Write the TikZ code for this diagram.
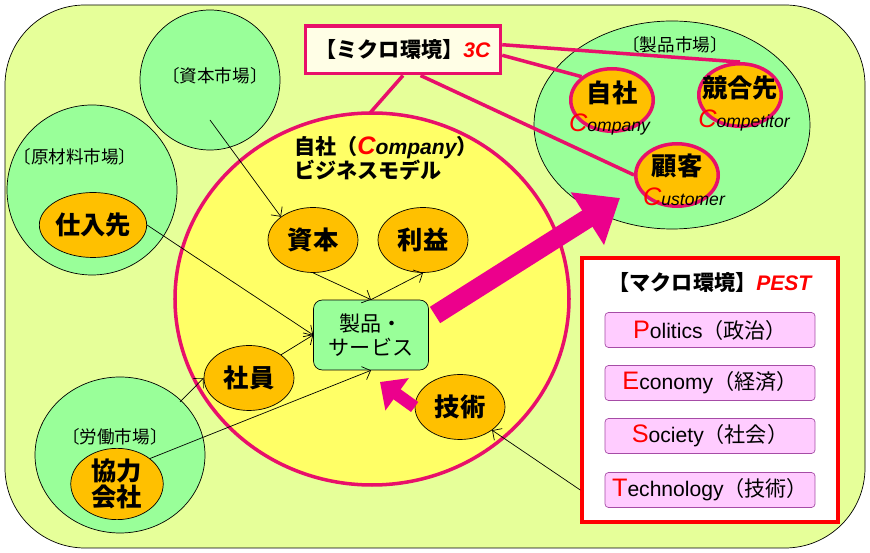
\documentclass[tikz,border=0pt]{standalone}
\usepackage{fontspec}
\setmainfont{Noto Sans CJK JP}
\newfontfamily\latfont{Liberation Sans}
\usetikzlibrary{arrows.meta,shapes.geometric}
\definecolor{bgyel}{HTML}{E6FF99}
\definecolor{mkgreen}{HTML}{99FF99}
\definecolor{bizyel}{HTML}{FFFF66}
\definecolor{orng}{HTML}{FFC000}
\definecolor{rosered}{HTML}{E8106A}
\definecolor{pestpink}{HTML}{FFCCFF}
\newcommand{\bigC}{{\latfont\itshape\color{red}\Large C}}
\newcommand{\rl}[1]{{\latfont\color{red}\Large #1}}
\tikzset{
  orngnode/.style={draw, fill=orng, ellipse, font=\Large\bfseries, inner sep=0pt, minimum width=1.8cm, minimum height=1.3cm},
  pinkorng/.style={draw=rosered, line width=2pt, fill=orng, ellipse, inner sep=0pt, minimum width=1.65cm, minimum height=1.25cm},
  pestitem/.style={draw=violet!70, fill=pestpink, rounded corners=2pt, minimum width=4.2cm, minimum height=0.7cm, font=\large},
  thinarrow/.style={-{Straight Barb[length=4pt]}, thin},
  pinkline/.style={rosered, line width=2pt}
}
\begin{document}
\begin{tikzpicture}[x=0.02cm, y=-0.02cm]
  \useasboundingbox (0,0) rectangle (870,553);
  \draw[fill=bgyel, rounded corners=1.6cm] (5,5) rectangle (865,548);

  % markets
  \draw[fill=mkgreen] (210,80) ellipse (70 and 70);
  \node (capmkt) at (215,76) {〔資本市場〕};
  \draw[fill=mkgreen] (92,190) ellipse (85 and 85);
  \node (rawmkt) at (75,157) {〔原材料市場〕};
  \draw[fill=mkgreen] (120,455) ellipse (85 and 78);
  \node (labmkt) at (115,437) {〔労働市場〕};
  \draw[fill=mkgreen] (672,125) ellipse (138 and 104);
  \node (prodmkt) at (675,45) {〔製品市場〕};

  % business model
  \draw[rosered, line width=2pt, fill=bizyel] (372,299) ellipse (197 and 186);
  \node[align=left, font=\large\bfseries, anchor=north west] (biz) at (288,130)
    {自社（\bigC{\latfont\itshape ompany}）\\ビジネスモデル};

  \node[orngnode] (shihon) at (313,240) {資本};
  \node[orngnode] (rieki) at (423,240) {利益};
  \node[orngnode] (shain) at (249,378) {社員};
  \node[orngnode] (gijutsu) at (460,407) {技術};
  \node[orngnode] (shiire) at (93,225) {仕入先};
  \node[orngnode, minimum width=1.85cm, minimum height=1.35cm, align=center] (kyoryoku) at (117,484) {協力\\[-3pt]会社};

  \node[draw, fill=mkgreen, rounded corners=5pt, minimum width=2.3cm, minimum height=1.4cm, align=center, font=\large] (seihin) at (371,335) {製品・\\サービス};

  % 3C
  \node[pinkorng] (jisha) at (612,100) {};
  \node[font=\Large\bfseries] at (612,93) {自社};
  \node[anchor=west, xshift=-4pt] at (570,124) {\bigC{\latfont\itshape ompany}};
  \node[pinkorng] (kyogo) at (740,95) {};
  \node[font=\Large\bfseries] at (740,88) {競合先};
  \node at (744,120) {\bigC{\latfont\itshape ompetitor}};
  \node[pinkorng] (kokyaku) at (677,175) {};
  \node[font=\Large\bfseries] at (677,166) {顧客};
  \node at (684,197) {\bigC{\latfont\itshape ustomer}};

  \node[draw=rosered, line width=2pt, fill=yellow!10, minimum width=3.9cm, minimum height=0.95cm, font=\large\bfseries] (micro) at (403,50)
    {【ミクロ環境】{\latfont\itshape\color{red}3C}};
  \draw[pinkline] (micro.south) -- (370,113);
  \draw[pinkline] ([xshift=10pt]micro.south) -- (kokyaku.west);
  \draw[pinkline] ([yshift=-3pt]micro.east) -- (jisha.north west);
  \draw[pinkline] ([yshift=3pt]micro.east) -- (kyogo.north);

  % PEST
  \node[draw=red, line width=2pt, fill=white, minimum width=5.12cm, minimum height=5.28cm] (pest) at (710,390) {};
  \node[font=\large\bfseries] (pesttitle) at (710,283) {【マクロ環境】{\latfont\itshape\color{red}PEST}};
  \node[pestitem] (pol) at (710,330) {\rl{P}{\latfont olitics}（政治）};
  \node[pestitem] (eco) at (710,383) {\rl{E}{\latfont conomy}（経済）};
  \node[pestitem] (soc) at (710,436) {\rl{S}{\latfont ociety}（社会）};
  \node[pestitem] (tec) at (710,490) {\rl{T}{\latfont echnology}（技術）};

  % thin arrows
  \draw[thinarrow] (210,120) -- (shihon.north west);
  \draw[thinarrow] (shiire.east) -- (seihin.west);
  \draw[thinarrow] (shihon.south) -- (seihin.north);
  \draw[thinarrow] (seihin.north) -- (rieki.south);
  \draw[thinarrow] (shain.north east) -- (seihin.west);
  \draw[thinarrow] (180,402) -- (shain.west);
  \draw[thinarrow] (kyoryoku.north east) -- (seihin.south);
  \draw[thinarrow] (pest.west |- 0,490) -- (gijutsu.south east);

  % big arrows
  \draw[-{Triangle[length=22pt,width=34pt]}, line width=11pt, magenta] (435,315) -- (620,198);
  \draw[-{Triangle[length=12pt,width=22pt]}, line width=7pt, magenta] (gijutsu.west) -- (380,382);
\end{tikzpicture}
\end{document}
